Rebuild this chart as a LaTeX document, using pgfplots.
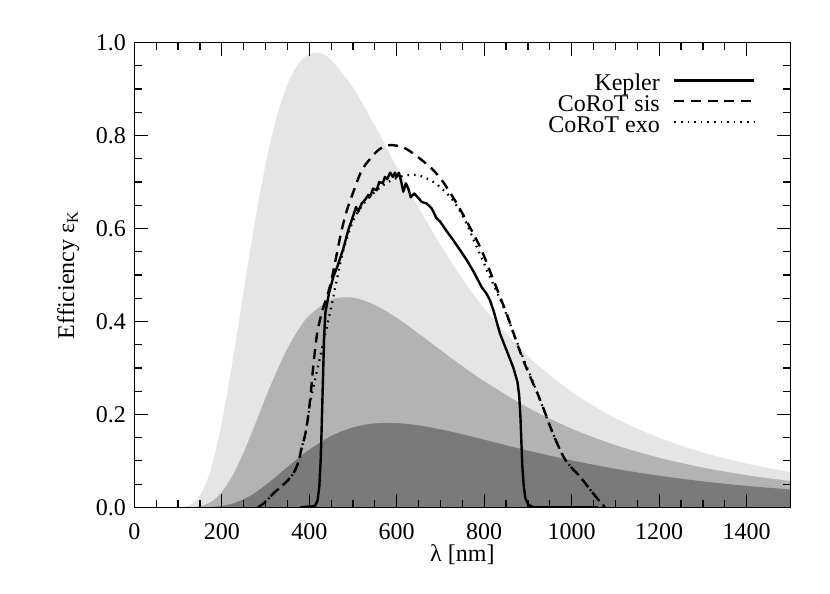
\documentclass[border=0pt,12pt]{standalone}
\usepackage{fontspec}
\setmainfont{Liberation Serif}
\usepackage{pgfplots}
\pgfplotsset{compat=1.18}
\usepackage{pgfplotstable}
\definecolor{bblight}{RGB}{229,229,229}
\definecolor{bbmid}{RGB}{179,179,179}
\definecolor{bbdark}{RGB}{122,122,122}

\pgfplotstableread{
lam val
0 0
100 0.0002
125 0.004
150 0.0249
175 0.0818
200 0.1820
225 0.3164
250 0.4657
275 0.6110
300 0.7376
325 0.8380
350 0.9098
375 0.9544
400 0.9752
425 0.9765
450 0.9623
500 0.9026
550 0.8206
600 0.7317
650 0.6448
700 0.5643
750 0.4920
800 0.4284
900 0.3252
1000 0.2485
1100 0.1918
1200 0.1497
1300 0.1181
1400 0.0942
1500 0.0759
}\bbA

\pgfplotstableread{
lam val
0 0
100 0
125 0.0002
150 0.0025
175 0.0115
200 0.0328
225 0.0690
250 0.1183
275 0.1757
300 0.2353
325 0.2917
350 0.3413
375 0.3819
400 0.4128
450 0.4469
500 0.4512
550 0.4353
600 0.4075
650 0.3739
700 0.3385
750 0.3039
800 0.2713
900 0.2145
1000 0.1692
1100 0.1339
1200 0.1067
1300 0.0856
1400 0.0692
1500 0.0565
}\bbB

\pgfplotstableread{
lam val
0 0
150 0
175 0.0008
200 0.0030
225 0.0082
250 0.0174
275 0.0307
300 0.0476
325 0.0667
350 0.0866
375 0.1062
400 0.1242
450 0.1535
500 0.1720
550 0.1806
600 0.1813
650 0.1764
700 0.1678
750 0.1572
800 0.1455
900 0.1221
1000 0.1009
1100 0.0829
1200 0.0680
1300 0.0559
1400 0.0462
1500 0.0384
}\bbC

\pgfplotstableread{
lam val
380 0
413 0.003
419 0.015
423 0.045
426 0.10
428 0.16
430 0.23
432 0.30
434 0.37
437 0.42
445 0.46
455 0.496
465 0.52
478 0.557
489 0.596
501 0.629
507 0.646
512 0.636
520 0.654
527 0.661
535 0.672
539 0.668
546 0.686
554 0.682
560 0.700
568 0.697
573 0.711
578 0.706
585 0.720
591 0.711
596 0.720
599 0.710
605 0.720
611 0.697
615 0.679
621 0.697
627 0.684
632 0.667
640 0.675
648 0.667
657 0.657
668 0.654
680 0.643
691 0.622
699 0.615
712 0.597
729 0.575
745 0.553
760 0.532
778 0.503
794 0.474
805 0.460
813 0.446
821 0.424
836 0.374
851 0.338
866 0.302
876 0.270
880 0.240
883 0.190
885 0.140
887 0.090
890 0.050
894 0.020
900 0.007
908 0.002
915 0
1060 0
}\kepler

\pgfplotstableread{
lam val
283 0
300 0.012
318 0.030
335 0.044
352 0.059
363 0.072
371 0.087
378 0.108
383 0.130
389 0.150
394 0.173
402 0.231
409 0.302
418 0.374
429 0.420
441 0.455
451 0.490
463 0.546
474 0.596
486 0.639
501 0.679
520 0.725
543 0.754
560 0.770
580 0.779
600 0.778
620 0.772
638 0.761
660 0.745
684 0.725
706 0.700
737 0.654
767 0.603
794 0.553
821 0.489
851 0.417
889 0.317
928 0.231
954 0.166
981 0.109
1000 0.085
1019 0.066
1049 0.030
1076 0
}\sis

\pgfplotstableread{
lam val
283 0
300 0.012
318 0.030
335 0.044
352 0.059
363 0.072
371 0.087
378 0.108
383 0.130
389 0.150
395 0.180
402 0.225
412 0.270
424 0.320
437 0.375
450 0.430
463 0.489
478 0.553
501 0.618
531 0.661
569 0.693
607 0.711
646 0.715
684 0.700
722 0.668
752 0.625
783 0.560
813 0.496
844 0.431
882 0.338
916 0.259
954 0.166
981 0.109
1000 0.085
1019 0.066
1049 0.030
1076 0
}\exo

\begin{document}
\begin{tikzpicture}
\begin{axis}[
  name=ax,
  scale only axis,
  width=328pt, height=232.4pt,
  xmin=0, xmax=1500, ymin=0, ymax=1,
  enlargelimits=false,
  axis on top,
  xtick={0,200,...,1400},
  minor x tick num=3,
  ytick={0,0.2,...,1.0},
  minor y tick num=3,
  tick align=inside,
  major tick length=6.7pt,
  minor tick length=3.7pt,
  axis line style={line width=0.6pt},
  every tick/.style={line width=0.6pt, black},
  /pgf/number format/assume math mode=true,
  /pgf/number format/1000 sep={},
  yticklabel style={/pgf/number format/.cd, fixed, fixed zerofill, precision=1},
  xticklabel style={yshift=-4pt},
  xlabel={λ [nm]},
  ylabel={Efficiency ε\textsubscript{K}},
  x label style={at={(axis description cs:0.5,0)}, anchor=north, yshift=-14.5pt},
  y label style={at={(axis description cs:-0.1006,0.5)}, anchor=center},
  legend plot pos=right,
  legend cell align=right,
  legend image code/.code={\draw[#1] (0pt,3pt) -- (40pt,3pt);},
  legend style={draw=none, fill=none, inner sep=0pt, outer sep=0pt,
    column sep=6.7pt, row sep=0pt,
    nodes={inner sep=0pt, text height=7.5pt, text depth=2.85pt},
    at={(axis description cs:0.947,0.928)}, anchor=north east},
]
\addplot[fill=bblight, draw=none, smooth, forget plot] table[x=lam,y=val] {\bbA} \closedcycle;
\addplot[fill=bbmid, draw=none, smooth, forget plot] table[x=lam,y=val] {\bbB} \closedcycle;
\addplot[fill=bbdark, draw=none, smooth, forget plot] table[x=lam,y=val] {\bbC} \closedcycle;

\addplot[black, line width=1.2pt, line join=round] table[x=lam,y=val] {\kepler};
\addlegendentry{Kepler}
\addplot[black, line width=1.2pt, smooth, dash pattern=on 5pt off 3.3pt] table[x=lam,y=val] {\sis};
\addlegendentry{CoRoT sis}
\addplot[black, line width=1.1pt, smooth, dash pattern=on 0.8pt off 2.5pt] table[x=lam,y=val] {\exo};
\addlegendentry{CoRoT exo}
\end{axis}
\path (-67.15pt,-42.85pt) rectangle (347.8pt,253.65pt);
\end{tikzpicture}
\end{document}
